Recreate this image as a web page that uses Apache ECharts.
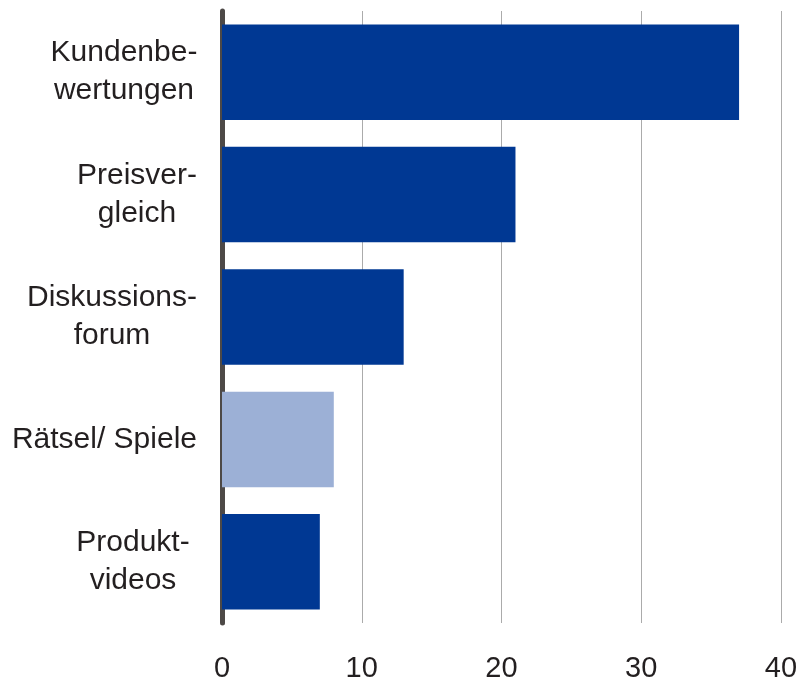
<!DOCTYPE html>
<html>
<head>
<meta charset="utf-8">
<script src="https://cdn.jsdelivr.net/npm/echarts@6/dist/echarts.min.js"></script>
<style>
  html, body { margin: 0; padding: 0; background: #fff; }
  #chart { width: 800px; height: 680px; }
</style>
</head>
<body>
<div id="chart"></div>
<script>
// Nutzung von Online-Angeboten (Werte)
const categories = [
  'Kundenbe-\nwertungen',
  'Preisver-\ngleich',
  'Diskussions-\nforum',
  'Rätsel/ Spiele',
  'Produkt-\nvideos'
];
const values = [37, 21, 13, 8, 7];
const highlighted = [false, false, false, true, false];
const xTicks = [0, 10, 20, 30, 40];

const DARK = '#003893';
const LIGHT = '#9cb0d6';
const FONT = '"Liberation Sans", Arial, Helvetica, sans-serif';

// Block widths so wrapped lines are centred among themselves
const lineWidths = [146, 120, 170, null, 128];
const rich = {};
lineWidths.forEach((w, i) => {
  const s = { align: 'center', fontSize: 30, lineHeight: 38, fontFamily: FONT, color: '#231f20' };
  if (w) s.width = w;
  rich['c' + i] = s;
});

const chart = echarts.init(document.getElementById('chart'));
chart.setOption({
  animation: false,
  backgroundColor: '#ffffff',
  grid: { left: 222, right: 19, top: 11, bottom: 57, outerBoundsMode: 'none' },
  xAxis: {
    type: 'value',
    min: xTicks[0],
    max: xTicks[xTicks.length - 1],
    interval: 10,
    axisLine: { show: false },
    axisTick: { show: false },
    splitLine: { show: true, lineStyle: { color: '#ababab', width: 1 } },
    axisLabel: {
      margin: 31,
      fontSize: 29,
      fontFamily: FONT,
      color: '#231f20'
    }
  },
  yAxis: {
    type: 'category',
    inverse: true,
    data: categories,
    axisLine: { show: true, lineStyle: { color: '#4d4947', width: 5 } },
    axisTick: { show: false },
    splitLine: { show: false },
    axisLabel: {
      margin: 25,
      formatter: (v, i) => v.split('\n').map(l => '{c' + i + '|' + l + '}').join('\n'),
      rich: rich
    }
  },
  series: [{
    type: 'bar',
    barCategoryGap: '22%',
    data: values.map((v, i) => ({
      value: v,
      itemStyle: { color: highlighted[i] ? LIGHT : DARK }
    })),
    z: 1
  }]
});
</script>
</body>
</html>
